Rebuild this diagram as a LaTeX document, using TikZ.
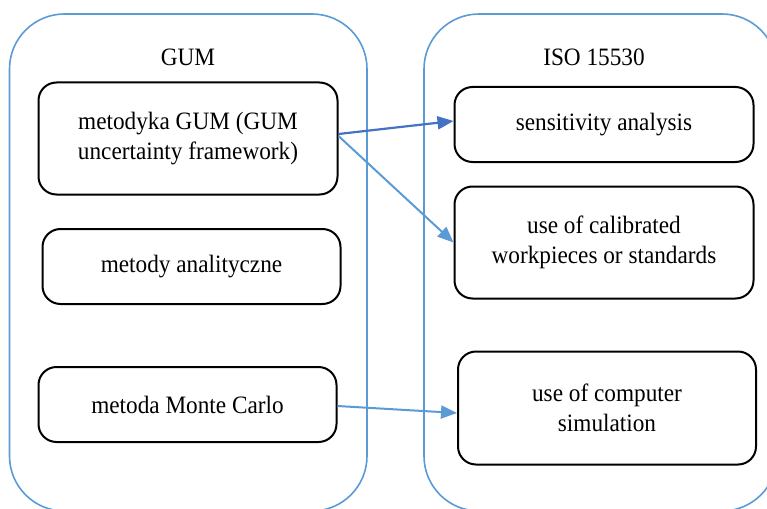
\documentclass[tikz,border=0pt]{standalone}
\usepackage{fontspec}
\setmainfont{Liberation Serif}[FakeStretch=0.93]
\usetikzlibrary{arrows.meta}
\definecolor{lblue}{HTML}{5B9BD5}
\definecolor{dblue}{HTML}{4472C4}
\begin{document}
\begin{tikzpicture}[x=1pt,y=-1pt,
  container/.style={draw=lblue, line width=1.6pt, rounded corners=55pt},
  box/.style={draw, line width=2pt, rounded corners=18pt, align=center, inner sep=0pt,
    font=\fontsize{25}{30}\selectfont},
  title/.style={font=\fontsize{25}{30}\selectfont, inner sep=0pt},
  arr/.style={line width=2.2pt, -{Triangle[length=16pt,width=13pt]}}
]
\useasboundingbox (0,0) rectangle (767,508);
\begin{scope}
\clip (0,0) rectangle (767,508);
\draw[container] (9.5,14) rectangle (367,511);
\draw[container] (424,14) rectangle (777,511);
\end{scope}
\node[title] (tgum) at (188,57) {GUM};
\node[title] (tiso) at (594,57) {ISO 15530};
\node[box, minimum width=299pt, minimum height=112pt] (m) at (188,138.5) {metodyka GUM (GUM\\uncertainty framework)};
\node[box, minimum width=298pt, minimum height=75pt] (a) at (191.5,266.5) {metody analityczne};
\node[box, minimum width=298pt, minimum height=75pt] (mc) at (187.5,404.5) {metoda Monte Carlo};
\node[box, minimum width=299pt, minimum height=75pt] (s) at (604,124.5) {sensitivity analysis};
\node[box, minimum width=299pt, minimum height=112pt] (c) at (604,242.5) {use of calibrated\\workpieces or standards};
\node[box, minimum width=298pt, minimum height=113pt] (cs) at (607,408) {use of computer\\simulation};
\draw[arr, dblue] ([yshift=4.5pt]m.east) -- ([yshift=3.5pt]s.west);
\draw[arr, lblue, line width=2pt] ([yshift=2.5pt]m.east) -- (c.west);
\draw[arr, lblue, line width=2pt] ([yshift=-1.5pt]mc.east) -- ([yshift=-5pt]cs.west);
\end{tikzpicture}
\end{document}
